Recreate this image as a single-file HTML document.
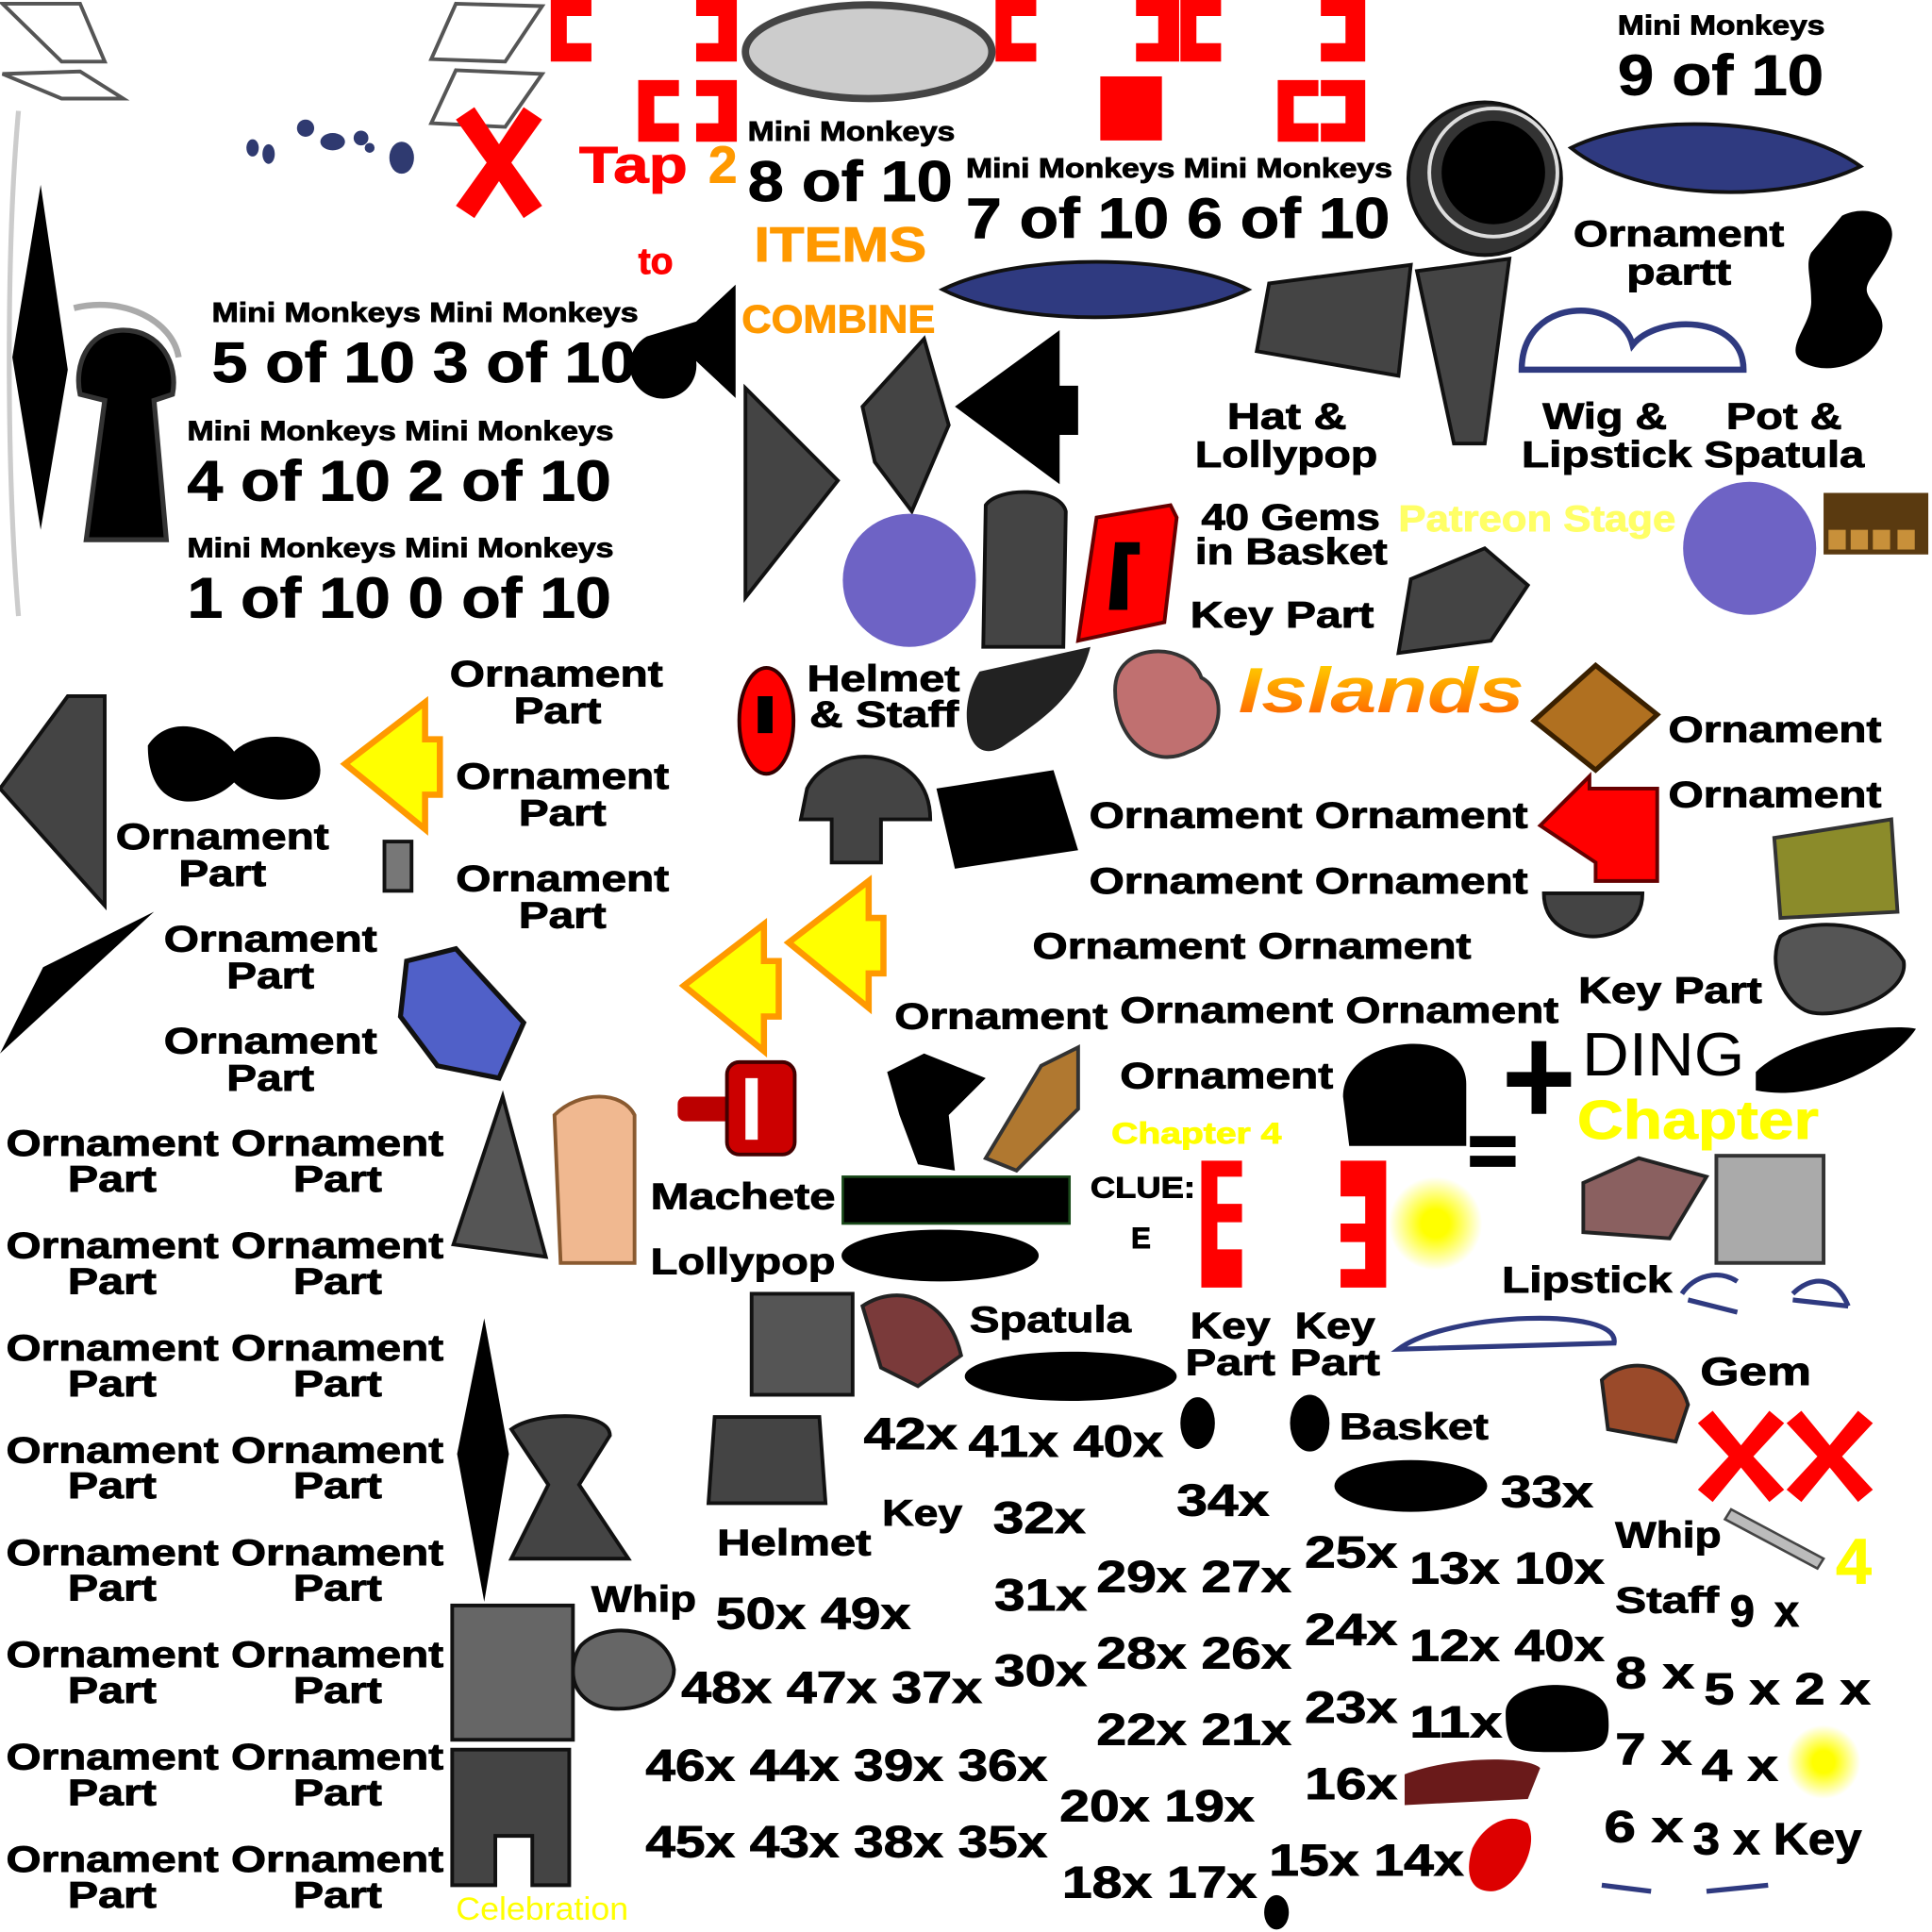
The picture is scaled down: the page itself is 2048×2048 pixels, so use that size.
<!DOCTYPE html>
<html><head><meta charset="utf-8"><style>
html,body{margin:0;padding:0;background:#fff;width:2048px;height:2048px;overflow:hidden}
svg{display:block}
text{font-family:"Liberation Sans",Arial,sans-serif;font-weight:bold;fill:#000;stroke:#000;stroke-width:0.7}
</style></head><body>
<svg width="2048" height="2048" viewBox="0 0 1568 1568" xmlns="http://www.w3.org/2000/svg">
<defs>
<linearGradient id="isl" x1="0" y1="0" x2="0" y2="1"><stop offset="0" stop-color="#ffdd00"/><stop offset="1" stop-color="#ff5500"/></linearGradient>
<radialGradient id="glow"><stop offset="0.3" stop-color="#ffff00"/><stop offset="1" stop-color="#ffff00" stop-opacity="0"/></radialGradient>
</defs>
<g fill="none" stroke="#555" stroke-width="3">
<path d="M2 3 L65 3 L85 50 L50 50 Z"/><path d="M2 60 L65 58 L100 80 L50 80 Z"/>
<path d="M370 3 L440 5 L410 50 L350 48 Z"/><path d="M370 57 L440 60 L410 103 L350 100 Z"/>
<path d="M15 90 C5 200 5 380 15 500" stroke="#ccc" stroke-width="4"/>
<path d="M60 250 C100 240 140 260 145 290" stroke="#aaa" stroke-width="5"/>
</g>
<g fill="#2f3a70"><ellipse cx="205" cy="120" rx="5" ry="7"/><ellipse cx="218" cy="125" rx="5" ry="8"/><circle cx="248" cy="104" r="7"/><ellipse cx="270" cy="115" rx="10" ry="7"/><circle cx="293" cy="112" r="6"/><circle cx="300" cy="120" r="4"/><ellipse cx="326" cy="128" rx="10" ry="13"/></g>
<g fill="#f00">
<path d="M447 0h33v13h-20v22h20v15h-33z"/><path d="M565 0h33v50h-33v-15h18v-22h-18z"/>
<path d="M518 65h33v13h-20v22h20v15h-33z"/><path d="M565 65h33v50h-33v-15h18v-22h-18z"/>
<path d="M808 0h33v13h-20v22h20v15h-33z"/><path d="M922 0h35v50h-35v-15h18v-22h-18z"/><path d="M958 0h33v13h-20v22h20v15h-33z"/>
<path d="M1072 0h36v50h-36v-15h20v-22h-20z"/>
<rect x="893" y="62" width="50" height="52"/><path d="M1037 65h33v13h-20v22h20v15h-33z"/><path d="M1072 65h36v50h-36v-15h20v-22h-20z"/>
<path d="M975 942h33v13h-20v22h20v15h-20v22h20v31h-33z"/><path d="M1088 942h37v103h-37v-15h20v-22h-20v-15h20v-22h-20z"/>
<path d="M370 97l15-10 20 30 20-30 15 10-25 35 25 35-15 10-20-30-20 30-15-10 25-35z"/>
<path d="M1378 1155l12-10 23 28 23-28 12 10-25 27 25 27-12 10-23-28-23 28-12-10 25-27z"/>
<path d="M1450 1155l12-10 23 28 23-28 12 10-25 27 25 27-12 10-23-28-23 28-12-10 25-27z"/>
<path d="M890 420l60-10 5 10-10 85-70 15z" stroke="#600" stroke-width="3"/><path d="M905 440h20v10h-10v45h-15z" fill="#000"/>
<path d="M1250 670l40-40v10h55v75h-50v-15z" stroke="#600" stroke-width="3"/>
<ellipse cx="622" cy="585" rx="22" ry="43" stroke="#300" stroke-width="3"/><path d="M615 565h12v30h-12z" fill="#000"/>
<rect x="550" y="890" width="50" height="20" rx="6" fill="#b00"/><rect x="590" y="862" width="55" height="75" rx="10" fill="#c00" stroke="#400" stroke-width="3"/><rect x="605" y="875" width="10" height="50" fill="#fff"/>
</g>
<ellipse cx="705" cy="42" rx="100" ry="38" fill="#ccc" stroke="#444" stroke-width="6"/>
<g fill="#000">
<path d="M33 150L55 300 33 430 10 290z"/>
<path d="M100 268c-30 0-40 30-35 52l20 5-15 113h65l-10-113 15-5c5-25-10-52-40-52z" stroke="#333" stroke-width="4"/>
<path d="M525 270a27 27 0 1 0 40 20l32 30v-92l-32 30z" transform="translate(0,3)"/>
<path d="M775 330l85-62v45h15v40h-15v40z"/>
<path d="M1495 175c20-10 45 0 40 20s-20 30-20 40 20 20 10 40-40 30-60 20 5-30 5-50-5-30 0-40z"/>
<circle cx="1205" cy="145" r="62" fill="#333" stroke="#111" stroke-width="3"/><circle cx="1212" cy="140" r="42" fill="#000"/><circle cx="1212" cy="140" r="52" fill="none" stroke="#ddd" stroke-width="3"/>
<path d="M0 855l35-70 90-45z"/>
<path d="M120 605c20-30 60-10 70 5 20-20 70-15 70 15s-50 30-70 10c-20 20-70 30-70-30z"/>
<path d="M1090 890c0-50 100-60 100-10v50h-95z"/>
<rect x="684" y="955" width="184" height="38" stroke="#1a4a1a" stroke-width="2"/>
<ellipse cx="763" cy="1019" rx="80" ry="21"/><ellipse cx="869" cy="1117" rx="86" ry="20"/><ellipse cx="1145" cy="1206" rx="62" ry="21"/>
<path d="M1222 1390c0-30 80-30 83 0s-5 32-40 32-43 0-43-32z"/>
<path d="M1425 870c30-30 110-40 130-35-20 30-80 60-130 50z"/>
<path d="M720 870l30-15 50 20-30 30 5 45-30-5-15-40z"/>
<path d="M795 545l90-20c-10 40-40 60-70 80-30 20-40-30-20-60z" fill="#222"/>
<path d="M760 640l95-15 20 65-100 15z"/>
<path d="M393 1070l20 110-20 120-22-120z"/>
<path d="M1223 870h20v-25h12v25h20v12h-20v22h-12v-22h-20z"/><rect x="1193" y="922" width="37" height="9"/><rect x="1193" y="938" width="37" height="9"/>
<ellipse cx="972" cy="1155" rx="14" ry="21"/><ellipse cx="1063" cy="1155" rx="16" ry="23"/>
<ellipse cx="1036" cy="1552" rx="10" ry="14"/>
</g>
<g fill="#444" stroke="#111" stroke-width="3">
<path d="M605 315l75 75-75 95z"/><path d="M0 640l55-75h30v170z"/>
<path d="M700 330l50-55 20 70-30 70-30-40z"/>
<path d="M1030 230l115-15-10 90-115-20z"/><path d="M1150 220l75-10-20 150h-25z"/>
<path d="M1145 470l60-25 35 30-30 45-75 10z"/>
<path d="M800 410c10-15 60-15 65 5l-2 110h-65z"/>
<path d="M655 640c20-40 100-35 100 25h-40v35h-40v-35h-25z"/>
<path d="M580 1150h85l5 70h-95z"/><rect x="610" y="1050" width="82" height="82" fill="#555"/>
<path d="M415 1160c20-15 80-15 80 5l-25 40 40 60h-95l30-60z"/>
<path d="M367 1420h95v110h-30v-40h-30v40h-35z"/>
<path d="M1253 725h80c0 30-30 35-40 35s-40-5-40-35z"/>
<path d="M1445 760c20-15 80-15 100 20 5 30-60 50-80 40s-30-40-20-60z" fill="#555"/>
<path d="M472 1335c20-20 70-15 75 20 0 30-50 40-70 25s-10-40-5-45z" fill="#666"/>
<path d="M368 1010l40-120 35 130z" fill="#555"/>
</g>
<rect x="367" y="1303" width="98" height="109" fill="#666" stroke="#111" stroke-width="3"/>
<rect x="1393" y="938" width="87" height="87" fill="#aaa" stroke="#333" stroke-width="3"/>
<rect x="312" y="683" width="22" height="40" fill="#777" stroke="#111" stroke-width="3"/>
<circle cx="738" cy="471" r="54" fill="#6e63c5"/><circle cx="1420" cy="445" r="54" fill="#6e63c5"/>
<path d="M1275 120c60-30 180-25 235 15-60 30-180 30-235-15z" fill="#2f3a80" stroke="#111" stroke-width="3"/>
<path d="M765 235c60-30 190-30 248 0-60 30-190 30-248 0z" fill="#2f3a80" stroke="#111" stroke-width="3"/>
<path d="M1235 300c0-60 80-60 90 -20 20-25 90-25 90 20z" fill="none" stroke="#2f3a80" stroke-width="5"/>
<path d="M1135 1095c40-30 180-35 175-5z" fill="none" stroke="#2f3a80" stroke-width="4"/>
<path d="M1480 400h85v50h-85z" fill="#5a3a10"/><g fill="#c8903a"><rect x="1484" y="430" width="14" height="16"/><rect x="1502" y="430" width="14" height="16"/><rect x="1520" y="430" width="14" height="16"/><rect x="1540" y="430" width="14" height="16"/></g>
<path d="M1245 585l50-45 50 40-50 45z" fill="#b07020" stroke="#3a2000" stroke-width="4"/>
<path d="M1440 680l95-15 5 75-95 5z" fill="#8b8b2a" stroke="#333" stroke-width="3"/>
<path d="M905 560c0-40 60-40 70 -10 20 10 20 50 -10 60 -30 15-60 -10-60 -50z" fill="#c07070" stroke="#333" stroke-width="3"/>
<path d="M800 940l45-75 30-15v50l-50 50z" fill="#b07830" stroke="#333" stroke-width="3"/>
<path d="M330 780l40-10 55 60-20 45-50-10-30-40z" fill="#5060c8" stroke="#111" stroke-width="4"/>
<path d="M450 905c20-20 55-20 65 0v120h-60z" fill="#f0b890" stroke="#8a5a30" stroke-width="3"/>
<path d="M700 1060c30-20 70-5 80 40l-35 25-30-15z" fill="#7a3a3a" stroke="#222" stroke-width="3"/>
<path d="M1285 960l45-20 55 15-30 50-70-5z" fill="#8a6060" stroke="#222" stroke-width="3"/>
<path d="M1300 1120c20-20 60-15 70 20l-10 30-55-10z" fill="#9a4a2a" stroke="#222" stroke-width="3"/>
<path d="M1140 1440c40-15 100-15 110-5l-10 25-100 5z" fill="#6a1a1a"/>
<path d="M1195 1500c10-20 30-30 45-20 10 20-10 55-30 55-20 0-20-20-15-35z" fill="#d00"/>
<path d="M1405 1225l75 40-5 8-75-40z" fill="#bbb" stroke="#444" stroke-width="2"/>
<g fill="#ffff00" stroke="#ff9900" stroke-width="5">
<path d="M280 620l65-50v30h12v45h-12v28z"/><path d="M640 765l65-50v30h12v45h-12v28z"/><path d="M555 800l65-50v30h12v45h-12v28z"/>
</g>
<circle cx="1165" cy="993" r="38" fill="url(#glow)"/><circle cx="1480" cy="1430" r="30" fill="url(#glow)"/>
<g fill="none" stroke="#2f3a80" stroke-width="4"><path d="M1365 1050c10-15 30-20 45-10M1370 1055l40 10"/><path d="M1455 1050c15-15 35-15 45 10M1455 1055l45 5"/><path d="M1300 1530l40 5M1385 1535l50-5"/></g>
<!-- text -->
<g lengthAdjust="spacingAndGlyphs">
<text x="1313" y="28" font-size="22" textLength="168" lengthAdjust="spacingAndGlyphs">Mini Monkeys</text>
<text x="1313" y="77" font-size="46" textLength="167" lengthAdjust="spacingAndGlyphs">9 of 10</text>
<text x="470" y="148" font-size="42" style="fill:#f00;stroke:#f00" textLength="88" lengthAdjust="spacingAndGlyphs">Tap</text>
<text x="575" y="148" font-size="42" style="fill:#ff9900;stroke:#ff9900">2</text>
<text x="607" y="114" font-size="22" textLength="168" lengthAdjust="spacingAndGlyphs">Mini Monkeys</text>
<text x="607" y="163" font-size="46" textLength="166" lengthAdjust="spacingAndGlyphs">8 of 10</text>
<text x="612" y="212" font-size="40" style="fill:#ff9900;stroke:#ff9900" textLength="140" lengthAdjust="spacingAndGlyphs">ITEMS</text>
<text x="518" y="222" font-size="30" style="fill:#f00;stroke:#f00">to</text>
<text x="602" y="270" font-size="32" style="fill:#ff9900;stroke:#ff9900" textLength="157" lengthAdjust="spacingAndGlyphs">COMBINE</text>
<text x="784" y="144" font-size="22" textLength="346" lengthAdjust="spacingAndGlyphs">Mini Monkeys Mini Monkeys</text>
<text x="784" y="193" font-size="46" textLength="344" lengthAdjust="spacingAndGlyphs">7 of 10 6 of 10</text>
<text x="1277" y="200" font-size="30" textLength="171" lengthAdjust="spacingAndGlyphs">Ornament</text>
<text x="1320" y="231" font-size="30" textLength="85" lengthAdjust="spacingAndGlyphs">partt</text>
<text x="172" y="261" font-size="22" textLength="346" lengthAdjust="spacingAndGlyphs">Mini Monkeys Mini Monkeys</text>
<text x="172" y="310" font-size="46" textLength="344" lengthAdjust="spacingAndGlyphs">5 of 10 3 of 10</text>
<text x="152" y="357" font-size="22" textLength="346" lengthAdjust="spacingAndGlyphs">Mini Monkeys Mini Monkeys</text>
<text x="152" y="406" font-size="46" textLength="344" lengthAdjust="spacingAndGlyphs">4 of 10 2 of 10</text>
<text x="152" y="452" font-size="22" textLength="346" lengthAdjust="spacingAndGlyphs">Mini Monkeys Mini Monkeys</text>
<text x="152" y="501" font-size="46" textLength="344" lengthAdjust="spacingAndGlyphs">1 of 10 0 of 10</text>
</g>
<g font-size="30">
<text x="996" y="348" textLength="97" lengthAdjust="spacingAndGlyphs">Hat &amp;</text><text x="970" y="379" textLength="148" lengthAdjust="spacingAndGlyphs">Lollypop</text>
<text x="1252" y="348" textLength="101" lengthAdjust="spacingAndGlyphs">Wig &amp;</text><text x="1235" y="379" textLength="138" lengthAdjust="spacingAndGlyphs">Lipstick</text>
<text x="1401" y="348" textLength="94" lengthAdjust="spacingAndGlyphs">Pot &amp;</text><text x="1383" y="379" textLength="130" lengthAdjust="spacingAndGlyphs">Spatula</text>
<text x="365" y="557" textLength="173" lengthAdjust="spacingAndGlyphs">Ornament</text><text x="417" y="587" textLength="71" lengthAdjust="spacingAndGlyphs">Part</text>
<text x="370" y="640" textLength="173" lengthAdjust="spacingAndGlyphs">Ornament</text><text x="421" y="670" textLength="71" lengthAdjust="spacingAndGlyphs">Part</text>
<text x="370" y="723" textLength="173" lengthAdjust="spacingAndGlyphs">Ornament</text><text x="421" y="753" textLength="71" lengthAdjust="spacingAndGlyphs">Part</text>
<text x="94" y="689" textLength="173" lengthAdjust="spacingAndGlyphs">Ornament</text><text x="145" y="719" textLength="71" lengthAdjust="spacingAndGlyphs">Part</text>
<text x="133" y="772" textLength="173" lengthAdjust="spacingAndGlyphs">Ornament</text><text x="184" y="802" textLength="71" lengthAdjust="spacingAndGlyphs">Part</text>
<text x="133" y="855" textLength="173" lengthAdjust="spacingAndGlyphs">Ornament</text><text x="184" y="885" textLength="71" lengthAdjust="spacingAndGlyphs">Part</text>
<text x="975" y="430" textLength="145" lengthAdjust="spacingAndGlyphs">40 Gems</text><text x="970" y="458" textLength="156" lengthAdjust="spacingAndGlyphs">in Basket</text>
<text x="966" y="509" textLength="149" lengthAdjust="spacingAndGlyphs">Key Part</text>
<text x="655" y="561" textLength="124" lengthAdjust="spacingAndGlyphs">Helmet</text><text x="657" y="590" textLength="121" lengthAdjust="spacingAndGlyphs">&amp; Staff</text>
<text x="1354" y="602" textLength="173" lengthAdjust="spacingAndGlyphs">Ornament</text><text x="1354" y="655" textLength="173" lengthAdjust="spacingAndGlyphs">Ornament</text>
<text x="884" y="672" textLength="356" lengthAdjust="spacingAndGlyphs">Ornament Ornament</text>
<text x="884" y="725" textLength="356" lengthAdjust="spacingAndGlyphs">Ornament Ornament</text>
<text x="838" y="778" textLength="356" lengthAdjust="spacingAndGlyphs">Ornament Ornament</text>
<text x="726" y="835" textLength="173" lengthAdjust="spacingAndGlyphs">Ornament</text>
<text x="909" y="830" textLength="356" lengthAdjust="spacingAndGlyphs">Ornament Ornament</text>
<text x="1281" y="814" textLength="149" lengthAdjust="spacingAndGlyphs">Key Part</text>
<text x="909" y="883" textLength="173" lengthAdjust="spacingAndGlyphs">Ornament</text>
<text x="528" y="981" textLength="150" lengthAdjust="spacingAndGlyphs">Machete</text><text x="528" y="1034" textLength="150" lengthAdjust="spacingAndGlyphs">Lollypop</text>
<text x="1219" y="1049" textLength="138" lengthAdjust="spacingAndGlyphs">Lipstick</text>
<text x="787" y="1081" textLength="131" lengthAdjust="spacingAndGlyphs">Spatula</text>
<text x="966" y="1086" textLength="65" lengthAdjust="spacingAndGlyphs">Key</text><text x="962" y="1116" textLength="73" lengthAdjust="spacingAndGlyphs">Part</text>
<text x="1051" y="1086" textLength="65" lengthAdjust="spacingAndGlyphs">Key</text><text x="1047" y="1116" textLength="73" lengthAdjust="spacingAndGlyphs">Part</text>
<text x="1087" y="1168" textLength="121" lengthAdjust="spacingAndGlyphs">Basket</text>
<text x="716" y="1238" textLength="65" lengthAdjust="spacingAndGlyphs">Key</text><text x="582" y="1262" textLength="125" lengthAdjust="spacingAndGlyphs">Helmet</text>
<text x="1311" y="1256" textLength="86" lengthAdjust="spacingAndGlyphs">Whip</text><text x="480" y="1308" textLength="85" lengthAdjust="spacingAndGlyphs">Whip</text>
<text x="1311" y="1309" textLength="84" lengthAdjust="spacingAndGlyphs">Staff</text>
</g>
<text x="1135" y="431" font-size="30" style="fill:#ffff66;stroke:#ffff66" textLength="225" lengthAdjust="spacingAndGlyphs">Patreon Stage</text>
<text x="1005" y="578" font-size="52" font-style="italic" style="fill:url(#isl);stroke:none" textLength="232" lengthAdjust="spacingAndGlyphs">Islands</text>
<text x="1284" y="873" font-size="50" style="font-weight:normal;stroke:none" textLength="132" lengthAdjust="spacingAndGlyphs">DING</text>
<text x="902" y="928" font-size="24" style="fill:#ffff00;stroke:#ffff00" textLength="138" lengthAdjust="spacingAndGlyphs">Chapter 4</text>
<text x="1280" y="924" font-size="44" style="fill:#ffff00;stroke:#ffff00" textLength="196" lengthAdjust="spacingAndGlyphs">Chapter</text>
<text x="885" y="972" font-size="24" textLength="85" lengthAdjust="spacingAndGlyphs">CLUE:</text><text x="918" y="1013" font-size="24">E</text>
<text x="1380" y="1124" font-size="32" textLength="90" lengthAdjust="spacingAndGlyphs">Gem</text>
<text x="1490" y="1285" font-size="52" style="fill:#ffff00;stroke:#ffff00">4</text>
<text x="370" y="1558" font-size="26" style="font-weight:normal;fill:#ffff00;stroke:none" textLength="140" lengthAdjust="spacingAndGlyphs">Celebration</text>
<g font-size="30">
<text x="5" y="938" textLength="355" lengthAdjust="spacingAndGlyphs">Ornament Ornament</text><text x="55" y="967" textLength="72" lengthAdjust="spacingAndGlyphs">Part</text><text x="238" y="967" textLength="72" lengthAdjust="spacingAndGlyphs">Part</text>
<text x="5" y="1021" textLength="355" lengthAdjust="spacingAndGlyphs">Ornament Ornament</text><text x="55" y="1050" textLength="72" lengthAdjust="spacingAndGlyphs">Part</text><text x="238" y="1050" textLength="72" lengthAdjust="spacingAndGlyphs">Part</text>
<text x="5" y="1104" textLength="355" lengthAdjust="spacingAndGlyphs">Ornament Ornament</text><text x="55" y="1133" textLength="72" lengthAdjust="spacingAndGlyphs">Part</text><text x="238" y="1133" textLength="72" lengthAdjust="spacingAndGlyphs">Part</text>
<text x="5" y="1187" textLength="355" lengthAdjust="spacingAndGlyphs">Ornament Ornament</text><text x="55" y="1216" textLength="72" lengthAdjust="spacingAndGlyphs">Part</text><text x="238" y="1216" textLength="72" lengthAdjust="spacingAndGlyphs">Part</text>
<text x="5" y="1270" textLength="355" lengthAdjust="spacingAndGlyphs">Ornament Ornament</text><text x="55" y="1299" textLength="72" lengthAdjust="spacingAndGlyphs">Part</text><text x="238" y="1299" textLength="72" lengthAdjust="spacingAndGlyphs">Part</text>
<text x="5" y="1353" textLength="355" lengthAdjust="spacingAndGlyphs">Ornament Ornament</text><text x="55" y="1382" textLength="72" lengthAdjust="spacingAndGlyphs">Part</text><text x="238" y="1382" textLength="72" lengthAdjust="spacingAndGlyphs">Part</text>
<text x="5" y="1436" textLength="355" lengthAdjust="spacingAndGlyphs">Ornament Ornament</text><text x="55" y="1465" textLength="72" lengthAdjust="spacingAndGlyphs">Part</text><text x="238" y="1465" textLength="72" lengthAdjust="spacingAndGlyphs">Part</text>
<text x="5" y="1519" textLength="355" lengthAdjust="spacingAndGlyphs">Ornament Ornament</text><text x="55" y="1548" textLength="72" lengthAdjust="spacingAndGlyphs">Part</text><text x="238" y="1548" textLength="72" lengthAdjust="spacingAndGlyphs">Part</text>
</g>
<g font-size="36">
<text x="701" y="1176" textLength="76" lengthAdjust="spacingAndGlyphs">42x</text><text x="786" y="1182" textLength="158" lengthAdjust="spacingAndGlyphs">41x 40x</text>
<text x="955" y="1230" textLength="75" lengthAdjust="spacingAndGlyphs">34x</text><text x="1218" y="1223" textLength="75" lengthAdjust="spacingAndGlyphs">33x</text>
<text x="806" y="1244" textLength="75" lengthAdjust="spacingAndGlyphs">32x</text>
<text x="1059" y="1272" textLength="75" lengthAdjust="spacingAndGlyphs">25x</text><text x="1144" y="1285" textLength="158" lengthAdjust="spacingAndGlyphs">13x 10x</text>
<text x="807" y="1307" textLength="75" lengthAdjust="spacingAndGlyphs">31x</text><text x="890" y="1292" textLength="158" lengthAdjust="spacingAndGlyphs">29x 27x</text>
<text x="581" y="1322" textLength="158" lengthAdjust="spacingAndGlyphs">50x 49x</text>
<text x="1404" y="1320">9</text><text x="1440" y="1320">x</text>
<text x="1059" y="1335" textLength="75" lengthAdjust="spacingAndGlyphs">24x</text><text x="1144" y="1348" textLength="158" lengthAdjust="spacingAndGlyphs">12x 40x</text>
<text x="807" y="1368" textLength="75" lengthAdjust="spacingAndGlyphs">30x</text><text x="890" y="1354" textLength="158" lengthAdjust="spacingAndGlyphs">28x 26x</text>
<text x="553" y="1382" textLength="244" lengthAdjust="spacingAndGlyphs">48x 47x 37x</text>
<text x="1311" y="1370" textLength="64" lengthAdjust="spacingAndGlyphs">8 x</text><text x="1383" y="1383" textLength="135" lengthAdjust="spacingAndGlyphs">5 x 2 x</text>
<text x="1059" y="1398" textLength="75" lengthAdjust="spacingAndGlyphs">23x</text><text x="1144" y="1410" textLength="75" lengthAdjust="spacingAndGlyphs">11x</text><text x="890" y="1416" textLength="158" lengthAdjust="spacingAndGlyphs">22x 21x</text>
<text x="1311" y="1432" textLength="62" lengthAdjust="spacingAndGlyphs">7 x</text><text x="1381" y="1445" textLength="62" lengthAdjust="spacingAndGlyphs">4 x</text>
<text x="524" y="1445" textLength="326" lengthAdjust="spacingAndGlyphs">46x 44x 39x 36x</text>
<text x="1059" y="1460" textLength="75" lengthAdjust="spacingAndGlyphs">16x</text><text x="860" y="1478" textLength="158" lengthAdjust="spacingAndGlyphs">20x 19x</text>
<text x="1302" y="1495" textLength="64" lengthAdjust="spacingAndGlyphs">6 x</text><text x="1374" y="1505" textLength="137" lengthAdjust="spacingAndGlyphs">3 x Key</text>
<text x="524" y="1507" textLength="326" lengthAdjust="spacingAndGlyphs">45x 43x 38x 35x</text>
<text x="1030" y="1522" textLength="158" lengthAdjust="spacingAndGlyphs">15x 14x</text><text x="862" y="1540" textLength="158" lengthAdjust="spacingAndGlyphs">18x 17x</text>
</g>
</svg>
</body></html>
